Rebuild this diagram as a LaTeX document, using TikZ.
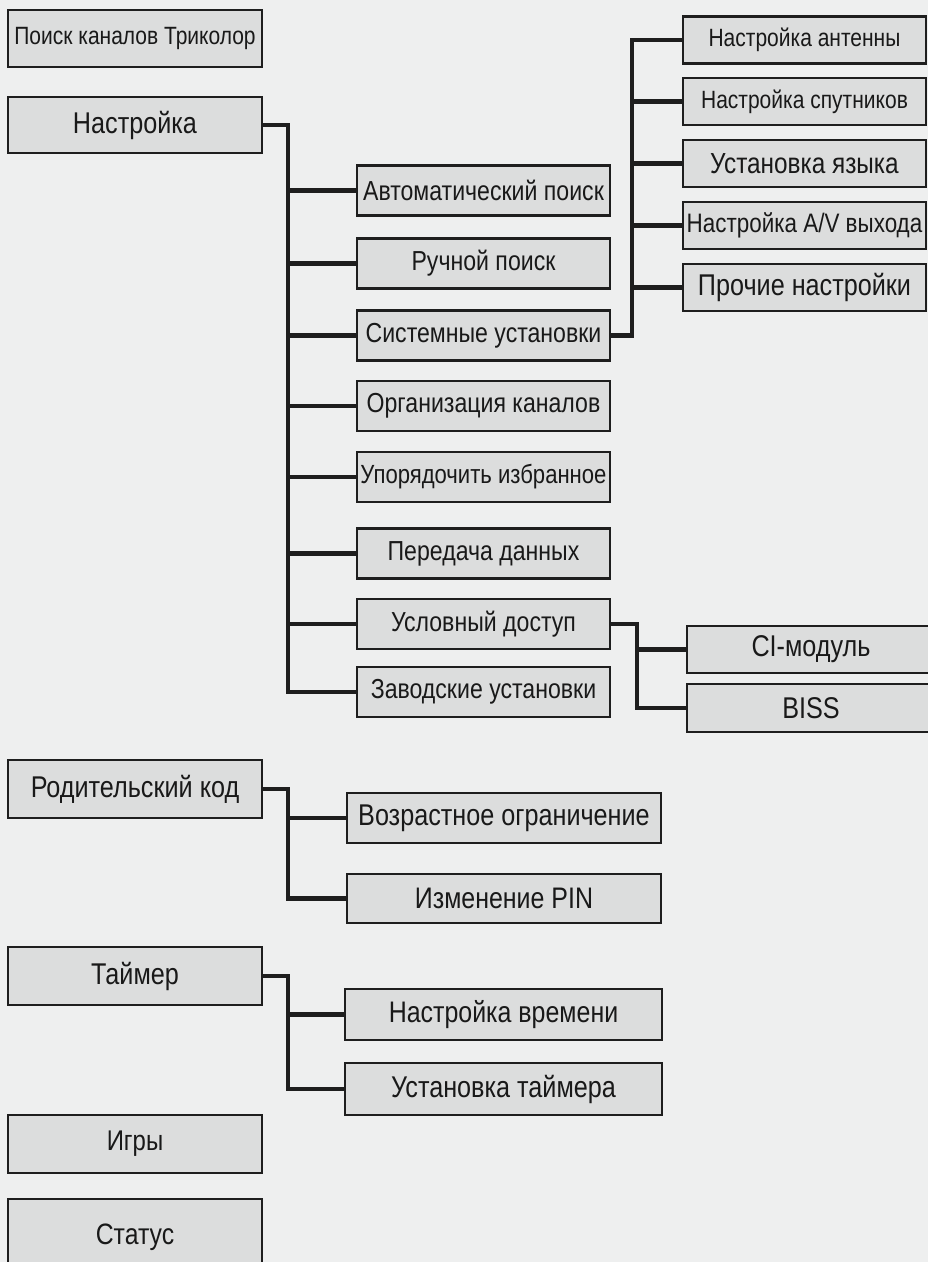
\documentclass[tikz,border=0pt]{standalone}
\usepackage{fontspec}
\setmainfont{Liberation Sans}[FakeStretch=0.84]
\definecolor{bgc}{RGB}{238,239,239}
\definecolor{boxc}{RGB}{220,221,221}
\definecolor{linec}{RGB}{30,30,30}
\begin{document}
\begin{tikzpicture}[x=1pt,y=-1pt,
  box/.style={draw=linec, fill=boxc, line width=2.4pt, inner sep=0pt, rectangle, anchor=center, text=black!90},
  conn/.style={draw=linec, line width=4.5pt, line cap=butt, line join=miter},
  fs/.style={font=\fontsize{#1}{#1}\selectfont}]
\fill[bgc] (0,0) rectangle (928,1262);
\useasboundingbox (0,0) rectangle (928,1262);
% left column
\node[box, fs=25, minimum width=254pt, minimum height=57pt] (poisk) at (135,38.5) {Поиск каналов Триколор};
\node[box, fs=30, minimum width=254pt, minimum height=56pt] (nastr) at (135,125) {Настройка};
\node[box, fs=30, minimum width=254pt, minimum height=58pt] (rod) at (135,789) {Родительский код};
\node[box, fs=30, minimum width=254pt, minimum height=58pt] (taim) at (135,976) {Таймер};
\node[box, fs=28.5, minimum width=254pt, minimum height=58pt] (igry) at (135,1144) {Игры};
\node[box, fs=29.5, minimum width=254pt, minimum height=76pt] (status) at (135,1237) {Статус};
% middle column
\tikzset{mid/.style={box, fs=27.5, minimum width=253pt, minimum height=50pt}}
\node[mid] (auto) at (483.5,190.5) {Автоматический поиск};
\node[mid] (ruch) at (483.5,263.5) {Ручной поиск};
\node[mid] (sys) at (483.5,335.5) {Системные установки};
\node[mid] (org) at (483.5,406) {Организация каналов};
\node[mid, fs=26.3] (upor) at (483.5,477) {Упорядочить избранное};
\node[mid] (pered) at (483.5,553.5) {Передача данных};
\node[mid] (usl) at (483.5,624) {Условный доступ};
\node[mid] (zav) at (483.5,692) {Заводские установки};
% right top column
\tikzset{rt/.style={box, minimum width=243pt, minimum height=47pt}}
\node[rt, fs=25] (ant) at (804.5,40) {Настройка антенны};
\node[rt, fs=25] (sput) at (804.5,101.5) {Настройка спутников};
\node[rt, fs=29] (yaz) at (804.5,163.5) {Установка языка};
\node[rt, fs=26.7] (av) at (804.5,225.5) {Настройка A/V выхода};
\node[rt, fs=30] (proch) at (804.5,287.5) {Прочие настройки};
% conditional access children
\node[box, fs=30, minimum width=248pt, minimum height=47pt] (ci) at (811,649.5) {CI-модуль};
\node[box, fs=30, minimum width=248pt, minimum height=48pt] (biss) at (811,708) {BISS};
% parental children
\node[box, fs=30, minimum width=314pt, minimum height=50pt] (vozr) at (504,818) {Возрастное ограничение};
\node[box, fs=29.7, minimum width=314pt, minimum height=49pt] (pin) at (504,898.5) {Изменение PIN};
% timer children
\node[box, fs=29.7, minimum width=317pt, minimum height=51pt] (vrem) at (503.5,1014.5) {Настройка времени};
\node[box, fs=30, minimum width=317pt, minimum height=52pt] (ustt) at (503.5,1089) {Установка таймера};
% trunk coordinates
\coordinate (t1) at (288,0);
\coordinate (t2) at (632,0);
\coordinate (t3) at (637,0);
% connectors: Настройка
\draw[conn] (nastr.east) -| (t1 |- zav.west) -- (zav.west);
\foreach \n in {auto,ruch,sys,org,upor,pered,usl}{\draw[conn] (t1 |- \n.west) -- (\n.west);}
% connectors: Системные установки
\draw[conn] (sys.east) -| (t2 |- ant.west) -- (ant.west);
\foreach \n in {sput,yaz,av,proch}{\draw[conn] (t2 |- \n.west) -- (\n.west);}
% connectors: Условный доступ
\draw[conn] (usl.east) -| (t3 |- biss.west) -- (biss.west);
\draw[conn] (t3 |- ci.west) -- (ci.west);
% connectors: Родительский код
\draw[conn] (rod.east) -| (t1 |- pin.west) -- (pin.west);
\draw[conn] (t1 |- vozr.west) -- (vozr.west);
% connectors: Таймер
\draw[conn] (taim.east) -| (t1 |- ustt.west) -- (ustt.west);
\draw[conn] (t1 |- vrem.west) -- (vrem.west);
\end{tikzpicture}
\end{document}
